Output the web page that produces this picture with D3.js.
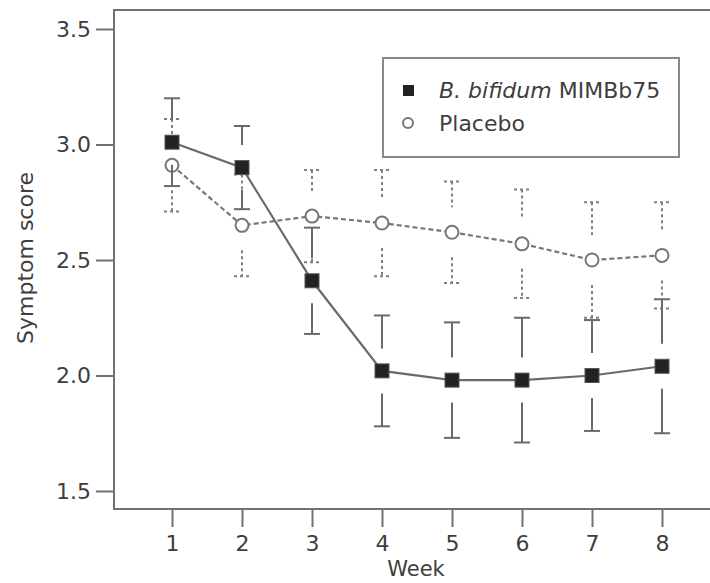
<!DOCTYPE html>
<html><head><meta charset="utf-8">
<script src="https://cdn.jsdelivr.net/npm/d3@7"></script>
<style>body{margin:0;background:#fff}svg{display:block}</style>
</head><body>
<script>
const weeks = [1, 2, 3, 4, 5, 6, 7, 8];
const bifidum = [3.01, 2.90, 2.41, 2.02, 1.98, 1.98, 2.00, 2.04];
const bifidumErr = [0.19, 0.18, 0.23, 0.24, 0.25, 0.27, 0.24, 0.29];
const placebo = [2.91, 2.65, 2.69, 2.66, 2.62, 2.57, 2.50, 2.52];
const placeboErr = [0.20, 0.22, 0.20, 0.23, 0.22, 0.235, 0.25, 0.23];
const yTicks = [1.5, 2.0, 2.5, 3.0, 3.5];
const seriesNames = ["B. bifidum", "MIMBb75", "Placebo"];

(function () {
const W = 710, H = 583;
const svg = d3.select("body").append("svg").attr("width", W).attr("height", H);
const font = "'DejaVu Sans', sans-serif";
const txt = "#3e3e3e", ln = "#707070";

const x = d3.scaleLinear().domain([1, 8]).range([172, 662]);
const y = d3.scaleLinear().domain([1.5, 3.5]).range([491, 29]);
const pLeft = 114, pTop = 10, pBottom = 509;

// frame
svg.append("path").attr("d", `M${W},${pTop}H${pLeft}V${pBottom}H${W}`)
  .attr("fill", "none").attr("stroke", ln).attr("stroke-width", 2);

// y axis
const yAx = svg.append("g").attr("transform", `translate(${pLeft},0)`)
  .call(d3.axisLeft(y).tickValues(yTicks).tickFormat(d3.format(".1f")).tickSize(18).tickPadding(5));
yAx.select(".domain").remove();
yAx.selectAll("line").attr("stroke", ln).attr("stroke-width", 2);
yAx.selectAll("text").attr("font-family", font).attr("font-size", 22).attr("fill", txt);

// x axis
const xAx = svg.append("g").attr("transform", `translate(0,${pBottom})`)
  .call(d3.axisBottom(x).tickValues(weeks).tickFormat(d3.format("d")).tickSize(18).tickPadding(8));
xAx.select(".domain").remove();
xAx.selectAll("line").attr("stroke", ln).attr("stroke-width", 2);
xAx.selectAll("text").attr("font-family", font).attr("font-size", 22).attr("fill", txt);

svg.append("text").attr("x", 416).attr("y", 576).attr("text-anchor", "middle")
  .attr("font-family", font).attr("font-size", 21).attr("fill", txt).text("Week");
svg.append("text").attr("transform", "translate(33,258) rotate(-90)").attr("text-anchor", "middle")
  .attr("font-family", font).attr("font-size", 22).attr("fill", txt).text("Symptom score");

function errBars(vals, errs, gap, dash, color) {
  const g = svg.append("g").attr("stroke", color).attr("stroke-width", 2).attr("fill", "none");
  if (dash) g.attr("stroke-dasharray", dash);
  weeks.forEach((w, i) => {
    const cx = x(w), cy = y(vals[i]);
    const yu = y(vals[i] + errs[i]), yl = y(vals[i] - errs[i]);
    g.append("line").attr("x1", cx).attr("x2", cx).attr("y1", yu).attr("y2", cy - gap);
    g.append("line").attr("x1", cx).attr("x2", cx).attr("y1", cy + gap).attr("y2", yl);
    g.append("line").attr("x1", cx - 8).attr("x2", cx + 8).attr("y1", yu).attr("y2", yu);
    g.append("line").attr("x1", cx - 8).attr("x2", cx + 8).attr("y1", yl).attr("y2", yl);
  });
}

const line = d3.line().x((d, i) => x(weeks[i])).y(d => y(d));

// placebo
errBars(placebo, placeboErr, 25, "3,3", "#808080");
svg.append("path").datum(placebo).attr("d", line).attr("fill", "none")
  .attr("stroke", "#777").attr("stroke-width", 2.2).attr("stroke-dasharray", "5,3");
svg.selectAll(".pc").data(placebo).enter().append("circle")
  .attr("cx", (d, i) => x(weeks[i])).attr("cy", d => y(d)).attr("r", 6.5)
  .attr("fill", "#fff").attr("stroke", "#777").attr("stroke-width", 2);

// bifidum
errBars(bifidum, bifidumErr, 22.5, null, "#6a6a6a");
svg.append("path").datum(bifidum).attr("d", line).attr("fill", "none")
  .attr("stroke", "#6a6a6a").attr("stroke-width", 2.2);
svg.selectAll(".bs").data(bifidum).enter().append("rect")
  .attr("x", (d, i) => x(weeks[i]) - 7).attr("y", d => y(d) - 7).attr("width", 14).attr("height", 14)
  .attr("fill", "#222").attr("stroke", "#555").attr("stroke-width", 1);

// legend
const lg = svg.append("g");
lg.append("rect").attr("x", 383).attr("y", 58).attr("width", 296).attr("height", 99)
  .attr("fill", "#fff").attr("stroke", "#888").attr("stroke-width", 2);
lg.append("rect").attr("x", 403).attr("y", 85).attr("width", 11).attr("height", 11).attr("fill", "#222");
lg.append("circle").attr("cx", 408).attr("cy", 123).attr("r", 5).attr("fill", "#fff")
  .attr("stroke", "#777").attr("stroke-width", 2);
const t1 = lg.append("text").attr("x", 439).attr("y", 98).attr("font-family", font)
  .attr("font-size", 22).attr("fill", txt);
t1.append("tspan").attr("font-style", "italic").text(seriesNames[0]);
t1.append("tspan").text(" " + seriesNames[1]);
lg.append("text").attr("x", 439).attr("y", 131).attr("font-family", font)
  .attr("font-size", 22).attr("fill", txt).text(seriesNames[2]);
})();
</script>
</body></html>
